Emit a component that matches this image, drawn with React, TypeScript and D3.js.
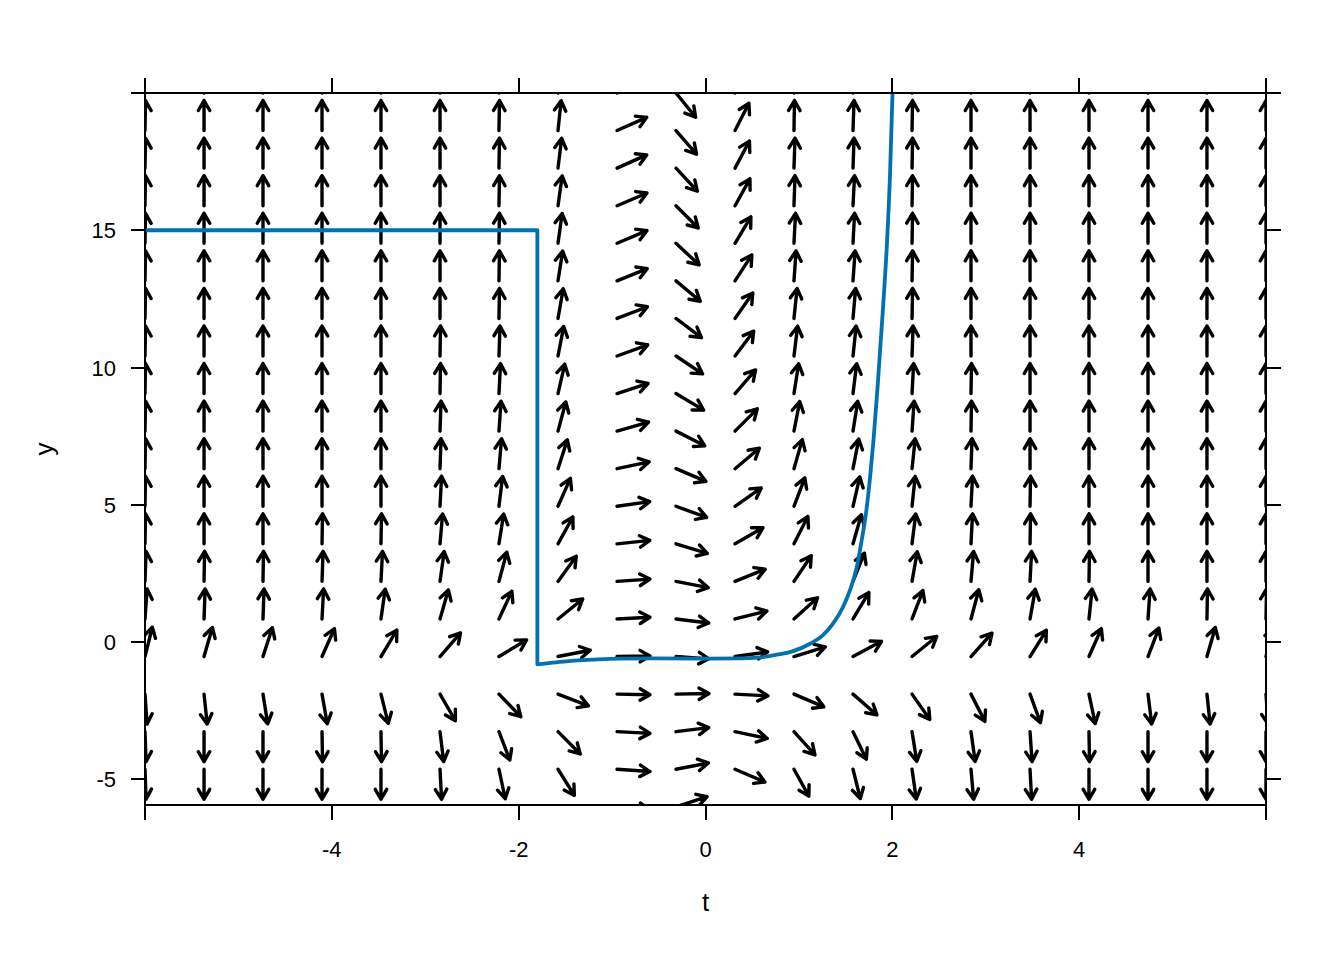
import React from "react";
import * as d3 from "d3";

// grid of the direction field (t across, y up)
const tGrid = [-6, -5.368, -4.737, -4.105, -3.474, -2.842, -2.211, -1.579, -0.947, -0.316, 0.316, 0.947, 1.579, 2.211, 2.842, 3.474, 4.105, 4.737, 5.368, 6];
const yGrid = [-6, -4.632, -3.263, -1.895, -0.526, 0.842, 2.211, 3.579, 4.947, 6.316, 7.684, 9.053, 10.421, 11.789, 13.158, 14.526, 15.895, 17.263, 18.632, 20];

// arrow direction (degrees, counter-clockwise from +t) read per column, bottom row first
const angleByColumn: number[][] = [
  [-88, -88, -88, -86, 76, 86, 88, 89, 89, 89, 89, 89, 89, 89, 89, 89, 89, 89, 89, 89],
  [-90, -90, -90, -84, 74, 88, 89, 90, 90, 90, 90, 90, 90, 90, 90, 90, 90, 90, 90, 90],
  [-90, -90, -90, -81, 72, 88, 89, 90, 90, 90, 90, 90, 90, 90, 90, 90, 90, 90, 90, 90],
  [-90, -90, -89, -80, 66, 87, 88, 89, 90, 90, 90, 90, 90, 90, 90, 90, 90, 90, 90, 90],
  [-90, -90, -89, -76, 59, 82, 87, 89, 90, 90, 90, 90, 90, 90, 90, 90, 90, 90, 90, 90],
  [-88, -87, -83, -60, 49, 74, 82, 85, 87, 88, 88, 89, 89, 90, 90, 90, 90, 90, 90, 90],
  [-82, -78, -69, -46, 31, 65, 75, 81, 83, 85, 86, 87, 88, 89, 89, 89, 89, 89, 89, 89],
  [-67, -58, -45, -21, 11, 39, 54, 61, 66, 72, 75, 77, 79, 80, 81, 82, 82, 83, 84, 85],
  [-5, -4, -3, -1, 1, 3, 4, 6, 8, 12, 16, 18, 20, 21, 22, 23, 23, 24, 24, 25],
  [18, 11, 7, 1, -4, -7, -11, -17, -20, -23, -27, -31, -34, -37, -40, -43, -45, -47, -49, -51],
  [-35, -23, -12, -3, 8, 14, 22, 30, 35, 40, 45, 49, 53, 55, 57, 59, 61, 62, 63, 64],
  [-70, -61, -48, -23, 17, 42, 56, 63, 69, 74, 79, 81, 83, 84, 86, 87, 88, 88, 89, 89],
  [-80, -76, -64, -41, 28, 59, 68, 74, 77, 79, 81, 83, 84, 85, 86, 87, 87, 88, 88, 88],
  [-84, -82, -81, -55, 39, 69, 80, 83, 84, 84, 86, 87, 88, 89, 89, 89, 89, 89, 89, 89],
  [-86, -85, -82, -63, 48, 75, 85, 87, 87, 88, 89, 89, 90, 90, 90, 90, 90, 90, 90, 90],
  [-88, -87, -86, -70, 58, 80, 87, 89, 89, 90, 90, 90, 90, 90, 90, 90, 90, 90, 90, 90],
  [-90, -90, -89, -78, 66, 84, 89, 90, 90, 90, 90, 90, 90, 90, 90, 90, 90, 90, 90, 90],
  [-90, -90, -90, -83, 69, 86, 90, 90, 90, 90, 90, 90, 90, 90, 90, 90, 90, 90, 90, 90],
  [-90, -90, -90, -84, 74, 89, 90, 90, 90, 90, 90, 90, 90, 90, 90, 90, 90, 90, 90, 90],
  [-90, -90, -90, -86, 77, 89, 90, 90, 90, 90, 90, 90, 90, 90, 90, 90, 90, 90, 90, 90],
];

// solution curve: the flat/vertical part, then the smooth part
const stepT = [-6, -1.8, -1.8];
const stepY = [15, 15, -0.81];
const curveT = [-1.8, -1.558, -1.204, -0.915, -0.562, -0.027, 0.401, 0.615, 0.765, 0.937, 1.119, 1.258, 1.365, 1.472, 1.547, 1.619, 1.672, 1.718, 1.766, 1.798, 1.841, 1.9, 1.943, 1.975, 2.002];
const curveY = [-0.81, -0.72, -0.64, -0.6, -0.595, -0.6, -0.59, -0.545, -0.46, -0.33, -0.06, 0.25, 0.67, 1.28, 1.89, 2.73, 3.71, 4.69, 6.15, 7.35, 9.24, 12.16, 14.56, 17.0, 19.99];

const xTicks = [-6, -4, -2, 0, 2, 4, 6];
const xTickLabels = ["", "-4", "-2", "0", "2", "4", ""];
const yTicks = [-5, 0, 5, 10, 15, 20];
const yTickLabels = ["-5", "0", "5", "10", "15", ""];

const W = 1344;
const H = 960;
const L = 145, R = 1266, T = 93, B = 805;
const FONT = "'Liberation Sans', Arial, sans-serif";

export default function App() {
  const x = d3.scaleLinear().domain([-6, 6]).range([L, R]);
  const y = d3.scaleLinear().domain([-5.934, 20]).range([B, T]);

  const arrows: string[] = [];
  tGrid.forEach((t, i) => {
    yGrid.forEach((v, k) => {
      const a = (angleByColumn[i][k] * Math.PI) / 180;
      const len = 30 + 3 * Math.cos(a) * Math.cos(a);
      const x0 = x(t);
      const y0 = y(v);
      const x1 = x0 + len * Math.cos(a);
      const y1 = y0 - len * Math.sin(a);
      const h = 11.5;
      const spread = (30 * Math.PI) / 180;
      const b1x = x1 - h * Math.cos(a - spread);
      const b1y = y1 + h * Math.sin(a - spread);
      const b2x = x1 - h * Math.cos(a + spread);
      const b2y = y1 + h * Math.sin(a + spread);
      arrows.push(
        `M${x0.toFixed(2)},${y0.toFixed(2)}L${x1.toFixed(2)},${y1.toFixed(2)}M${b1x.toFixed(2)},${b1y.toFixed(2)}L${x1.toFixed(2)},${y1.toFixed(2)}L${b2x.toFixed(2)},${b2y.toFixed(2)}`
      );
    });
  });

  const stepLine = d3
    .line<number>()
    .x((_, i) => x(stepT[i]))
    .y((d) => y(d));
  const smoothLine = d3
    .line<number>()
    .x((_, i) => x(curveT[i]))
    .y((d) => y(d))
    .curve(d3.curveMonotoneX);
  const stepPath = stepLine(stepY) || "";
  const smoothPath = smoothLine(curveY) || "";

  return (
    <svg
      width={W}
      height={H}
      style={{ position: "absolute", left: 0, top: 0, background: "#fff" }}
      fontFamily={FONT}
    >
      <defs>
        <clipPath id="panel">
          <rect x={L} y={T} width={R - L} height={B - T} />
        </clipPath>
      </defs>
      <rect x={0} y={0} width={W} height={H} fill="#fff" />
      <g clipPath="url(#panel)">
        {arrows.map((d, i) => (
          <path key={i} d={d} fill="none" stroke="#000" strokeWidth={3.4} strokeLinecap="round" strokeLinejoin="round" />
        ))}
        <path d={stepPath + smoothPath.replace(/^M/, "L")} fill="none" stroke="#0072B2" strokeWidth={3.8} strokeLinejoin="round" />
      </g>
      <rect x={L} y={T} width={R - L} height={B - T} fill="none" stroke="#000" strokeWidth={2} shapeRendering="crispEdges" />
      {xTicks.map((t, i) => (
        <g key={"xt" + i} shapeRendering="crispEdges">
          <line x1={x(t)} x2={x(t)} y1={B} y2={B + 15} stroke="#000" strokeWidth={2} />
          <line x1={x(t)} x2={x(t)} y1={T} y2={T - 15} stroke="#000" strokeWidth={2} />
          <text x={x(t)} y={B + 52} textAnchor="middle" fontSize={22} fill="#000">
            {xTickLabels[i]}
          </text>
        </g>
      ))}
      {yTicks.map((v, i) => (
        <g key={"yt" + i} shapeRendering="crispEdges">
          <line x1={L - 14} x2={L} y1={y(v)} y2={y(v)} stroke="#000" strokeWidth={2} />
          <line x1={R} x2={R + 15} y1={y(v)} y2={y(v)} stroke="#000" strokeWidth={2} />
          <text x={116} y={y(v) + 8} textAnchor="end" fontSize={22} fill="#000">
            {yTickLabels[i]}
          </text>
        </g>
      ))}
      <text x={(L + R) / 2} y={911} textAnchor="middle" fontSize={26} fill="#000">
        t
      </text>
      <text
        x={0}
        y={0}
        transform={`translate(53, ${(T + B) / 2}) rotate(-90)`}
        textAnchor="middle"
        fontSize={26}
        fill="#000"
      >
        y
      </text>
    </svg>
  );
}
